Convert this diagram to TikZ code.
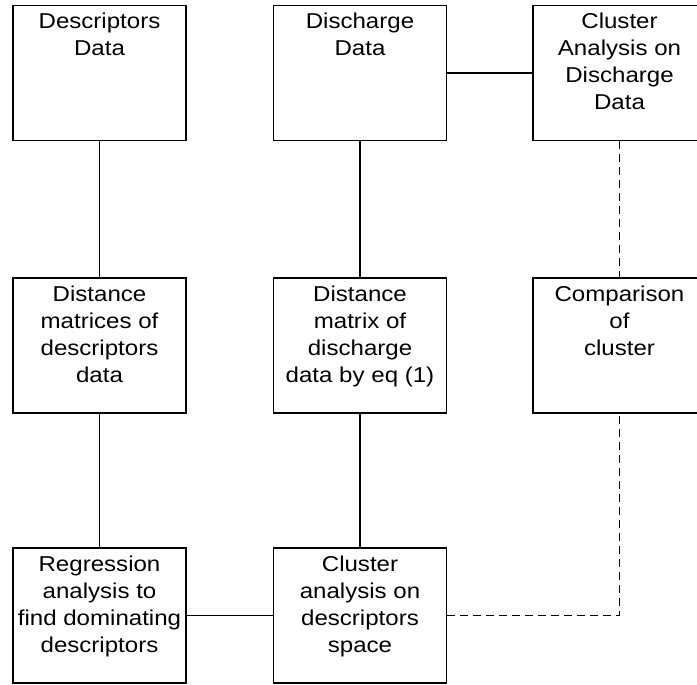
\documentclass[tikz,border=0pt]{standalone}
\usepackage{fontspec}
\setmainfont[FakeStretch=1.12]{Liberation Sans}
\usetikzlibrary{%
	calc,%
	positioning%
}
\tikzset{
	box/.style={draw, line width=1.4pt, minimum width=173pt, minimum height=135pt, inner sep=0pt},
	lbl/.style={anchor=north, align=center, inner sep=8pt, font=\fontsize{21.5pt}{27pt}\selectfont},
	link/.style={line width=1.4pt},
	dlink/.style={line width=1.5pt, dash pattern=on 8pt off 5pt}
}

\begin{document}
\begin{tikzpicture}[x=1pt,y=-1pt]
				% frame of the page, boxes on the right are cut off
				\useasboundingbox (0,0) rectangle (697,685);
				\clip (0,0) rectangle (697,685);
				% first row
				\node[box, label={[lbl]north:Descriptors\\Data}] (desc) at (99.5,73) {};
				\node[box, label={[lbl]north:Discharge\\Data}] (disch) at (360,73) {};
				\node[box, label={[lbl]north:Cluster\\Analysis on\\Discharge\\Data}] (clusdisch) at (619.5,73) {};
				% second row
				\node[box, label={[lbl]north:Distance\\matrices of\\descriptors\\data}] (distdesc) at (99.5,345.5) {};
				\node[box, label={[lbl]north:{Distance\\matrix of\\discharge\\data by eq (1)}}] (distdisch) at (360,345.5) {};
				\node[box, label={[lbl]north:Comparison\\of\\cluster}] (compare) at (619.5,345.5) {};
				% third row
				\node[box, label={[lbl]north:Regression\\analysis to\\find dominating\\descriptors}] (regr) at (99.5,615.5) {};
				\node[box, label={[lbl]north:Cluster\\analysis on\\descriptors\\space}] (clusdesc) at (360,615.5) {};
				% connectors
				\foreach \from/\to in {desc/distdesc,distdesc/regr,disch/distdisch,distdisch/clusdesc,disch/clusdisch,regr/clusdesc}
				\draw[link] (\from) -- (\to);
				\draw[dlink] (clusdisch) -- (compare);
				\draw[dlink] (clusdesc.east) -| (compare.south);
			\end{tikzpicture}
\end{document}
